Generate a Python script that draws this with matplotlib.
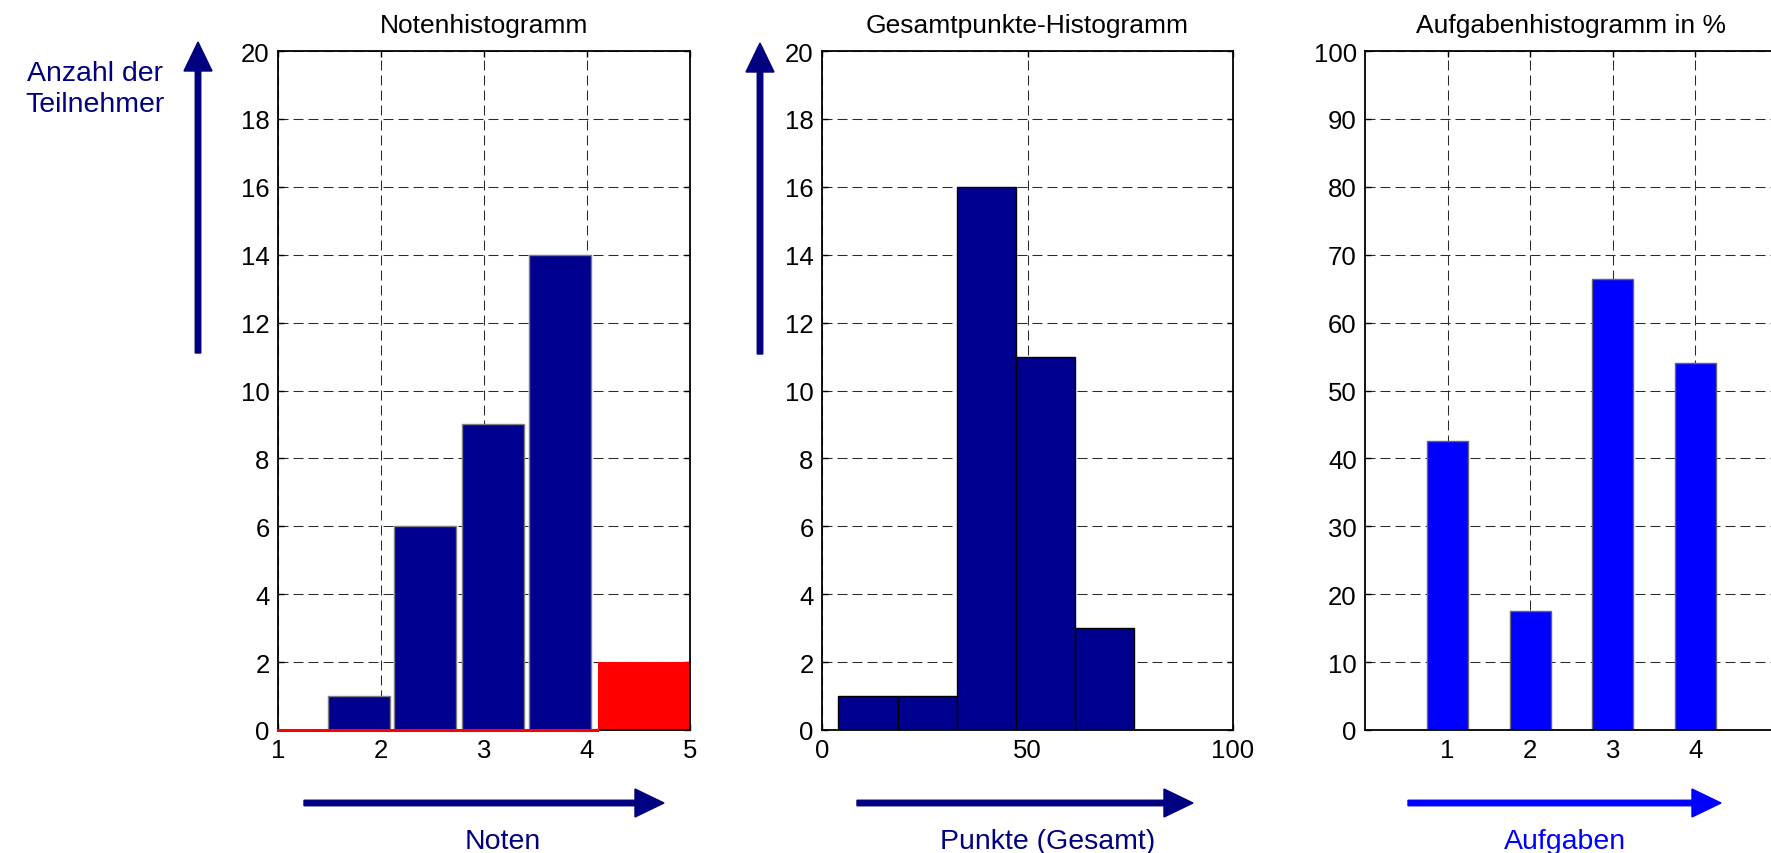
import matplotlib
matplotlib.use("Agg")
import matplotlib.pyplot as plt
from matplotlib.patches import FancyArrow
from matplotlib.transforms import IdentityTransform

plt.rcParams['font.family'] = ['Liberation Sans', 'DejaVu Sans']

# --- data ---
# Notenhistogramm
note_centers = [1.79, 2.43, 3.09, 3.74]
note_counts = [1, 6, 9, 14]
fail_center = 4.565
fail_count = 2

# Gesamtpunkte-Histogramm (bin edges in points)
punkte_edges = [4.0, 18.4, 32.8, 47.2, 61.6, 76.0]
punkte_counts = [1, 1, 16, 11, 3]

# Aufgabenhistogramm in %
aufgaben = [1, 2, 3, 4]
aufgaben_pct = [42.6, 17.5, 66.4, 54.1]

NAVY = '#00008F'
LABEL_NAVY = '#000080'
BLUE = '#0000FF'

W, H = 1771, 854
fig = plt.figure(figsize=(W / 100, H / 100), dpi=100)


def px_axes(x0, x1, y0, y1):
    # pixel box (top-left origin) -> figure fractions
    return fig.add_axes([x0 / W, 1 - y1 / H, (x1 - x0) / W, (y1 - y0) / H])


def style(ax):
    for s in ax.spines.values():
        s.set_linewidth(1.3)
    ax.tick_params(direction='in', length=4, width=1, top=True, right=True,
                   labelsize=18.5, pad=6)
    ax.grid(True, color='#2a2a2a', linestyle=(0, (9.6, 4.8)), linewidth=0.75)
    ax.set_axisbelow(True)


def arrow(x0, y0, x1, y1, color):
    # display pixel coords, top-left origin
    a = FancyArrow(x0, H - y0, x1 - x0, -(y1 - y0), width=5.5, head_width=28,
                   head_length=29, length_includes_head=True, color=color,
                   transform=IdentityTransform())
    fig.add_artist(a)


# 1. Notenhistogramm
ax1 = px_axes(278, 690, 52, 731)
ax1.bar(note_centers, note_counts, width=0.6, color=NAVY, edgecolor='#7f7f7f',
        linewidth=1)
ax1.bar(fail_center, fail_count, width=0.92, color='red', edgecolor='red',
        linewidth=0)
ax1.axhline(0, xmin=0, xmax=(4.1 - 1) / 4, color='red', linewidth=2.2,
            clip_on=False, zorder=5)
ax1.set_xlim(1, 5)
ax1.set_ylim(0, 20)
ax1.set_xticks([1, 2, 3, 4, 5])
ax1.set_yticks(range(0, 21, 2))
ax1.set_title('Notenhistogramm', fontsize=19, pad=14)
style(ax1)

# 2. Gesamtpunkte-Histogramm
ax2 = px_axes(822, 1233, 52, 731)
ax2.hist(punkte_edges[:-1], bins=punkte_edges, weights=punkte_counts,
         color=NAVY, edgecolor='black', linewidth=1)
ax2.set_xlim(0, 100)
ax2.set_ylim(0, 20)
ax2.set_xticks([0, 50, 100])
ax2.set_yticks(range(0, 21, 2))
ax2.set_title('Gesamtpunkte-Histogramm', fontsize=19, pad=14)
style(ax2)

# 3. Aufgabenhistogramm in %
ax3 = px_axes(1365, 1778, 52, 731)
ax3.bar(aufgaben, aufgaben_pct, width=0.5, color=BLUE, edgecolor='#666666',
        linewidth=1)
ax3.set_xlim(0, 5)
ax3.set_ylim(0, 100)
ax3.set_xticks(aufgaben)
ax3.set_yticks(range(0, 101, 10))
ax3.set_title('Aufgabenhistogramm in %', fontsize=19, pad=14)
style(ax3)

# axis arrows and captions
arrow(198, 354, 198, 43, LABEL_NAVY)
arrow(760, 355, 760, 44, LABEL_NAVY)
arrow(304, 804, 664, 804, LABEL_NAVY)
arrow(857, 804, 1193, 804, LABEL_NAVY)
arrow(1408, 804, 1721, 804, BLUE)

fig.text(165 / W, 1 - 112 / H, 'Anzahl der\nTeilnehmer', color=LABEL_NAVY,
         fontsize=20.5, ha='right', va='baseline', multialignment='center',
         linespacing=1.25)
fig.text(503 / W, 1 - 849 / H, 'Noten', color=LABEL_NAVY, fontsize=20.5,
         ha='center', va='baseline')
fig.text(1048 / W, 1 - 849 / H, 'Punkte (Gesamt)', color=LABEL_NAVY,
         fontsize=20.5, ha='center', va='baseline')
fig.text(1565 / W, 1 - 849 / H, 'Aufgaben', color=BLUE, fontsize=20.5,
         ha='center', va='baseline')

fig.savefig('out.png', dpi=100)
plt.close(fig)
